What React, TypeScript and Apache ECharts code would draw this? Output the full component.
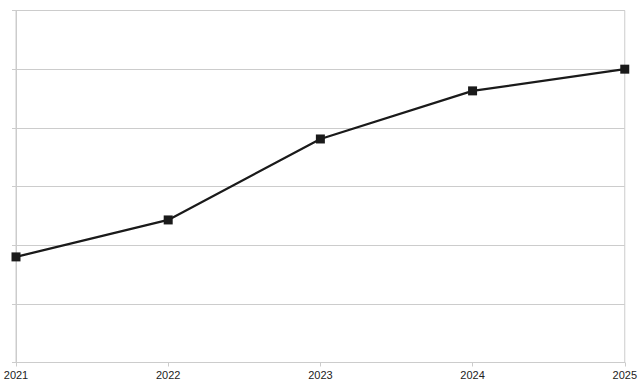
import React, { useEffect, useRef } from "react";
import * as echarts from "echarts";

const categories = ["2021", "2022", "2023", "2024", "2025"];
const values = [1.8, 2.43, 3.81, 4.63, 5.0];
const yMin = 0;
const yMax = 6;
const yInterval = 1;

export default function App() {
  const ref = useRef<HTMLDivElement>(null);
  useEffect(() => {
    const chart = echarts.init(ref.current!, null, { renderer: "svg" });
    chart.setOption({
      animation: false,
      backgroundColor: "#ffffff",
      grid: {
        left: 16,
        right: 14,
        top: 10.5,
        bottom: 23.5,
        containLabel: false,
        show: true,
        borderColor: "#cccccc",
        borderWidth: 1,
      },
      xAxis: {
        type: "category",
        data: categories,
        boundaryGap: false,
        axisLine: { show: true, lineStyle: { color: "#cccccc", width: 1 } },
        axisTick: { show: true, length: 4, lineStyle: { color: "#cccccc" } },
        axisLabel: {
          color: "#222222",
          fontFamily: "Liberation Sans",
          fontSize: 11,
          margin: 7,
          showMinLabel: true,
          showMaxLabel: true,
        },
        splitLine: { show: false },
      },
      yAxis: {
        type: "value",
        min: yMin,
        max: yMax,
        interval: yInterval,
        axisLine: { show: true, lineStyle: { color: "#cccccc", width: 1 } },
        axisTick: { show: true, length: 4, lineStyle: { color: "#cccccc" } },
        axisLabel: { show: false },
        splitLine: { show: true, lineStyle: { color: "#cccccc", width: 1 } },
      },
      series: [
        {
          type: "line",
          data: values,
          symbol: "rect",
          symbolSize: 9,
          lineStyle: { color: "#1a1a1a", width: 2.2 },
          itemStyle: { color: "#1a1a1a" },
        },
      ],
    });
    return () => chart.dispose();
  }, []);
  return <div ref={ref} style={{ width: 640, height: 386, position: "absolute", left: 0, top: 0 }} />;
}
